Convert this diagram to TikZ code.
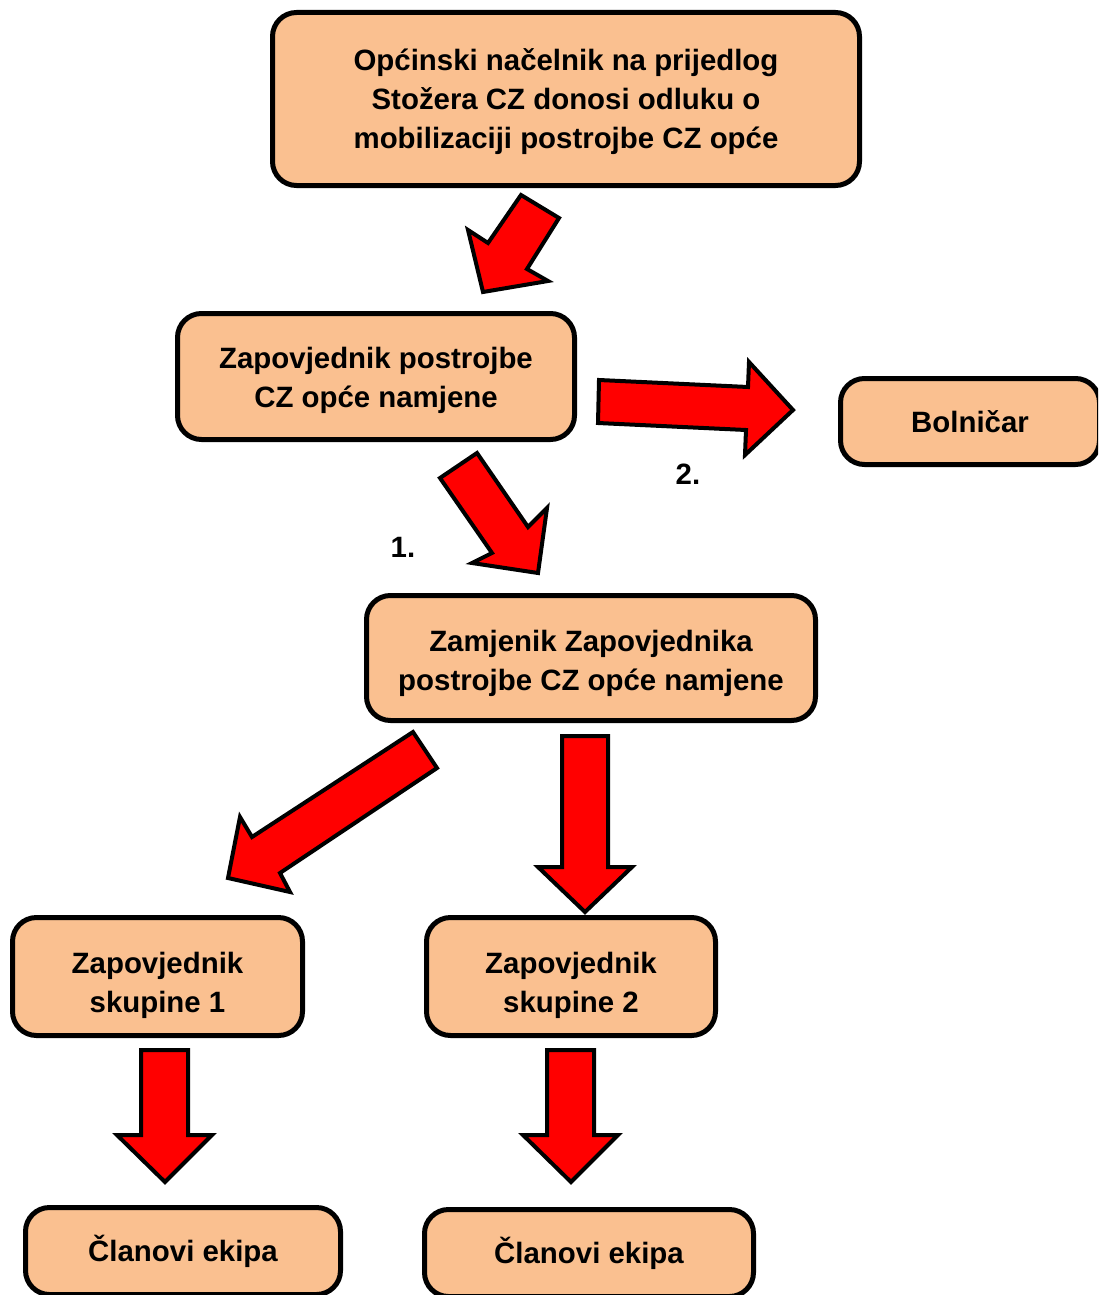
\documentclass[tikz,border=0pt]{standalone}
\usepackage{fontspec}
\setmainfont{Liberation Sans}
\definecolor{boxfill}{RGB}{250,192,144}
\newcommand{\toplift}[1]{\rule{0pt}{#1}}
\tikzset{
  box/.style={draw, line width=2.5pt, rounded corners=12pt, fill=boxfill,
    align=center, inner sep=0pt, font=\bfseries\fontsize{14.7}{19.5}\selectfont},
  blockarrow/.style={fill=red, draw=black, line width=2pt},
  steplabel/.style={font=\bfseries\fontsize{14.7}{19.5}\selectfont}
}
\begin{document}
\begin{tikzpicture}[x=0.5pt, y=-0.5pt]
   \useasboundingbox (0, 0) rectangle (1098, 1295);
   \clip (0, 0) rectangle (1098, 1295);
   % boxes
   \node[box, minimum width=293.5pt, minimum height=86.5pt] (nacelnik) at (566, 99)
     {\toplift{14pt}Općinski načelnik na prijedlog\\Stožera CZ donosi odluku o\\mobilizaciji postrojbe CZ opće};
   \node[box, minimum width=198.5pt, minimum height=63pt] (zapovjednik) at (376, 376.5)
     {\toplift{14.6pt}Zapovjednik postrojbe\\CZ opće namjene};
   \node[box, minimum width=129.5pt, minimum height=43pt] (bolnicar) at (970, 421.5) {Bolničar};
   \node[box, minimum width=224.5pt, minimum height=62.5pt] (zamjenik) at (591, 658)
     {\toplift{15.6pt}Zamjenik Zapovjednika\\postrojbe CZ opće namjene};
   \node[box, minimum width=145pt, minimum height=59pt] (skupina1) at (157.5, 976.5)
     {\toplift{19.6pt}Zapovjednik\\skupine 1};
   \node[box, minimum width=144.5pt, minimum height=59pt] (skupina2) at (571, 976.5)
     {\toplift{19.6pt}Zapovjednik\\skupine 2};
   \node[box, minimum width=157.5pt, minimum height=43.5pt] (clanovi1) at (183, 1251) {Članovi ekipa};
   \node[box, minimum width=164.5pt, minimum height=43.5pt] (clanovi2) at (589, 1253) {Članovi ekipa};
   % arrows
   \filldraw[blockarrow] (521, 195) -- (559, 218) -- (527, 269) -- (548, 281)
     -- (483, 292) -- (468, 230) -- (488, 243) -- cycle;
   \filldraw[blockarrow] (599, 380) -- (748, 387) -- (749, 362) -- (793, 410)
     -- (745, 455) -- (746, 430) -- (598, 423) -- cycle;
   \filldraw[blockarrow] (440, 478) -- (477, 453) -- (528, 527) -- (547, 508)
     -- (538, 573) -- (472, 563) -- (492, 553) -- cycle;
   \filldraw[blockarrow] (413, 732) -- (437, 768) -- (280, 873) -- (290, 892)
     -- (228, 878) -- (240, 817) -- (252, 837) -- cycle;
   \filldraw[blockarrow] (562, 736) -- (608, 736) -- (608, 867) -- (632, 867)
     -- (585, 912) -- (538, 867) -- (562, 867) -- cycle;
   \foreach \x in {165, 571} {
     \filldraw[blockarrow] (\x-24, 1050) -- (\x+23, 1050) -- (\x+23, 1135) -- (\x+47, 1135)
       -- (\x, 1182) -- (\x-48, 1135) -- (\x-24, 1135) -- cycle;
   }
   \node[steplabel] (prvi) at (403, 547) {1.};
   \node[steplabel] (drugi) at (688, 474) {2.};
  \end{tikzpicture}
\end{document}
